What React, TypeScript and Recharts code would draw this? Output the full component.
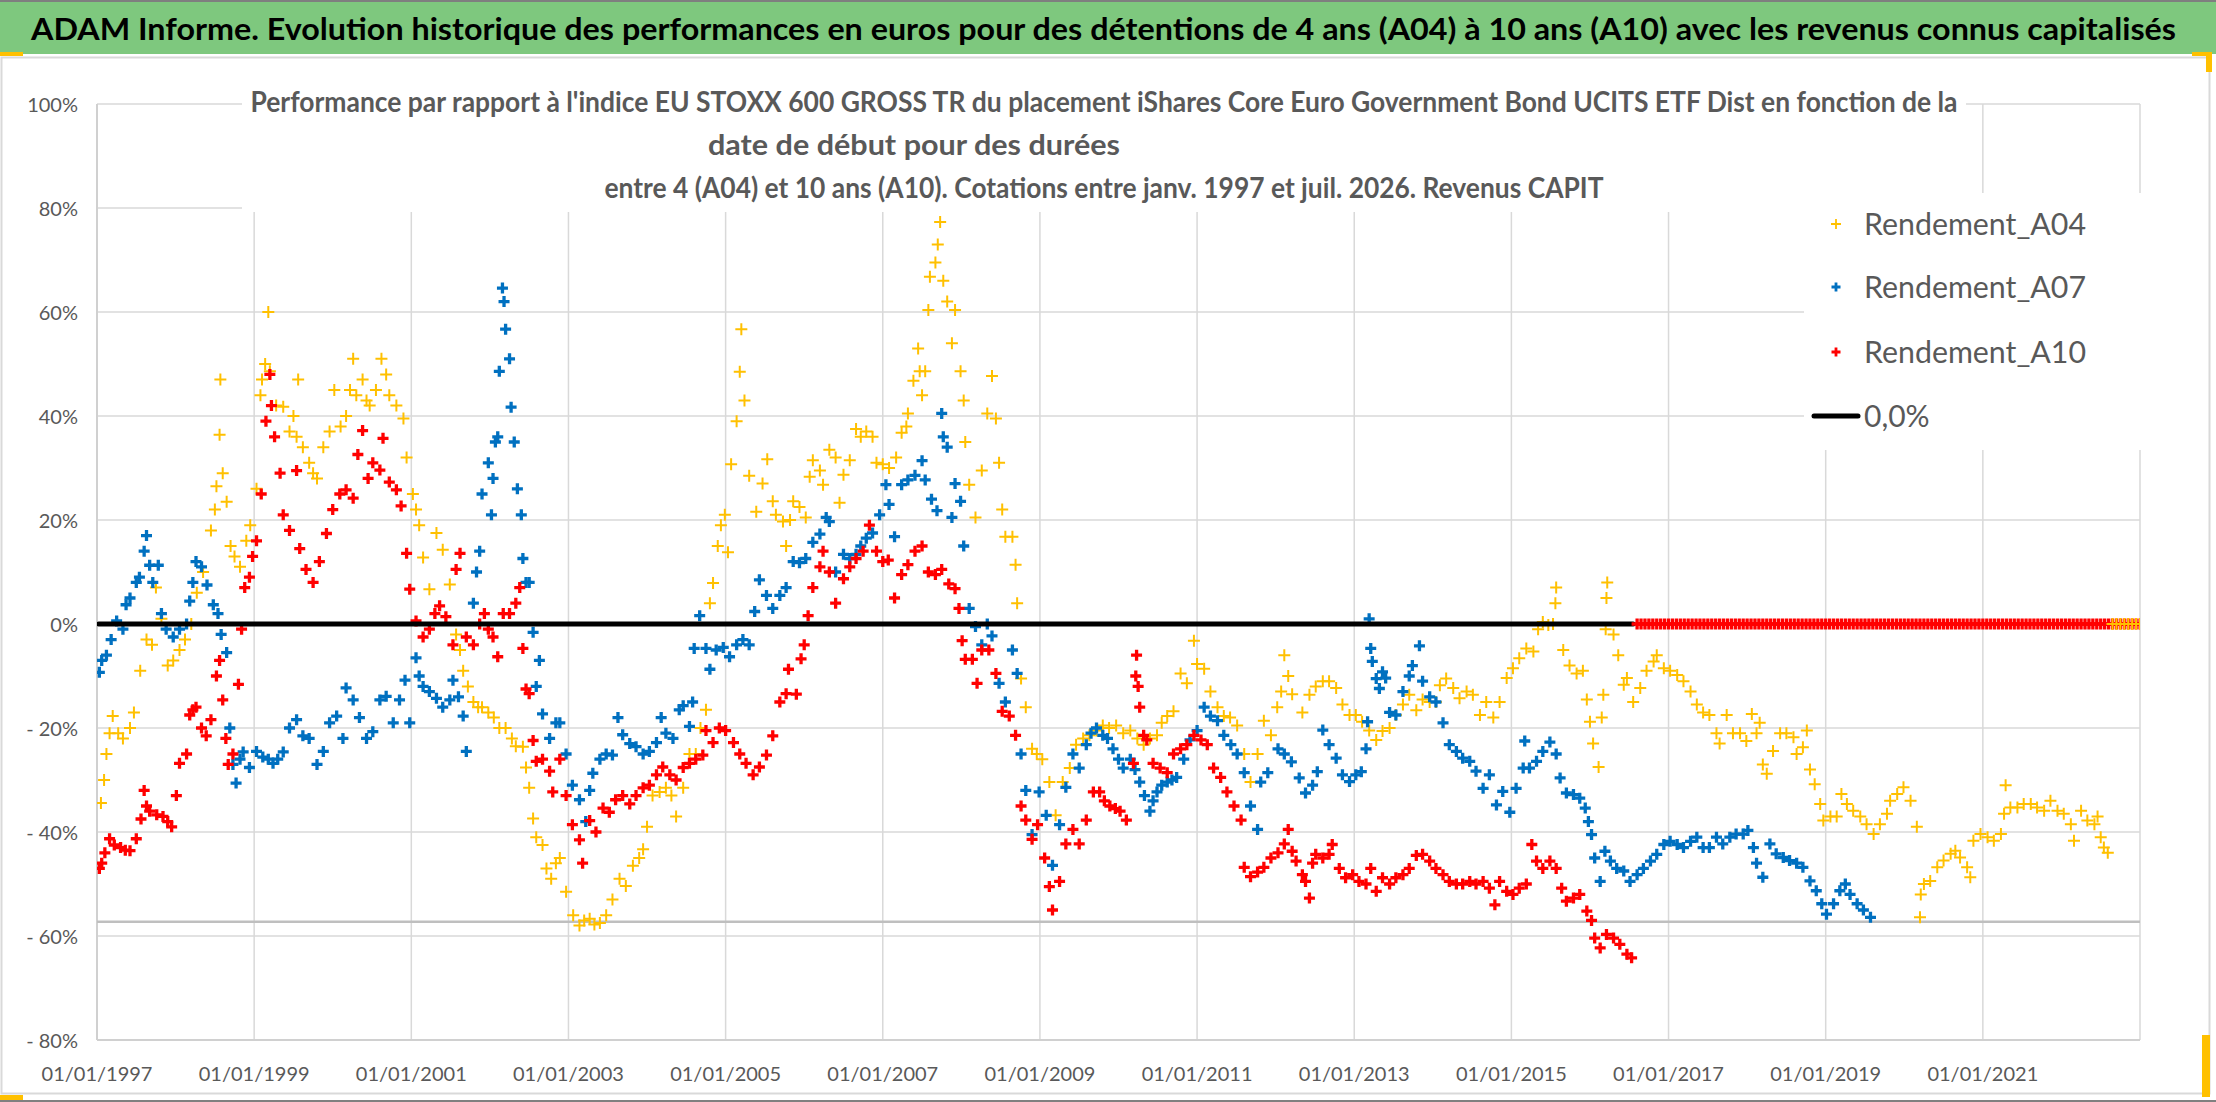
import React from 'react';
import { ScatterChart, Scatter, XAxis, YAxis, CartesianGrid } from 'recharts';

type Pt = [number, number];

// ---- axis ticks ----
const YEAR_TICKS = [1997, 1999, 2001, 2003, 2005, 2007, 2009, 2011, 2013, 2015, 2017, 2019, 2021];
const PCT_TICKS = [-80, -60, -40, -20, 0, 20, 40, 60, 80, 100];

// ---- texts ----
const TITLE = 'ADAM Informe. Evolution historique des performances en euros pour des détentions de 4 ans (A04) à 10 ans (A10) avec les revenus connus capitalisés';
const SUB1 = "Performance par rapport à l'indice EU STOXX 600 GROSS TR  du placement iShares Core Euro Government Bond UCITS ETF Dist en fonction de la";
const SUB2 = 'date de début pour des durées';
const SUB3 = 'entre 4 (A04) et 10 ans (A10). Cotations entre janv. 1997 et juil. 2026. Revenus CAPIT';
const SERIES_NAMES = ['Rendement_A04', 'Rendement_A07', 'Rendement_A10', '0,0%'];

// ---- series values: [date as decimal year, performance %] ----
const A04: Pt[] = [
  [1997.05,-34.4],[1997.09,-30],[1997.12,-25],[1997.16,-21],[1997.2,-17.7],[1997.27,-21],[1997.33,-22],[1997.42,-20],[1997.47,-17],[1997.55,-9],[1997.63,-3],[1997.7,-4],[1997.75,7],[1997.82,1],[1997.9,-8],[1997.97,-7],
  [1998.05,-5],[1998.12,-3],[1998.2,0],[1998.27,6],[1998.35,10],[1998.45,18],[1998.5,22],[1998.52,26.5],[1998.56,36.4],[1998.57,47],[1998.6,29],[1998.65,23.5],[1998.7,15],[1998.75,13],[1998.82,11],[1998.9,16],[1998.95,19],
  [1999.03,26],[1999.08,44],[1999.1,47],[1999.14,50],[1999.18,60],[1999.2,48.6],[1999.28,42],[1999.37,41.8],[1999.45,37],[1999.5,40],[1999.54,36],[1999.56,47],[1999.62,34],[1999.7,31],[1999.75,29],[1999.8,28],[1999.88,34],[1999.96,37],
  [2000.02,45],[2000.1,38],[2000.17,40],[2000.22,45],[2000.26,51],[2000.3,44],[2000.38,47],[2000.43,43],[2000.47,42],[2000.55,45],[2000.62,51],[2000.68,48],[2000.72,44],[2000.81,42],[2000.9,39.5],[2000.94,32],
  [2001.02,25],[2001.06,22],[2001.1,19],[2001.15,12.8],[2001.23,6.7],[2001.32,17.5],[2001.4,14.3],[2001.49,7.6],[2001.57,-2],[2001.62,-5],[2001.66,-9],[2001.72,-12],[2001.79,-15],[2001.85,-16],[2001.9,-16],[2001.98,-17],
  [2002.05,-18],[2002.12,-20],[2002.2,-20],[2002.28,-22],[2002.33,-23.5],[2002.42,-23.6],[2002.46,-27.6],[2002.5,-31.5],[2002.55,-37.4],[2002.59,-41],[2002.67,-42.5],[2002.72,-47],[2002.78,-49],[2002.84,-46],[2002.89,-45],[2002.97,-51.5],
  [2003.06,-56],[2003.14,-58],[2003.2,-57],[2003.27,-56.7],[2003.33,-57.8],[2003.4,-57.5],[2003.48,-56],[2003.56,-53],[2003.65,-49],[2003.73,-50.4],[2003.82,-46.5],[2003.9,-45],[2003.95,-43.3],
  [2004.0,-39],[2004.07,-33],[2004.16,-32.3],[2004.24,-31.5],[2004.31,-33],[2004.37,-37],[2004.46,-31.5],[2004.54,-25],[2004.62,-25],[2004.68,-20],[2004.75,-16.5],[2004.8,4],[2004.84,7.9],[2004.9,15],[2004.94,19],[2004.99,21],
  [2005.03,13.8],[2005.07,30.7],[2005.14,39],[2005.18,48.5],[2005.2,56.7],[2005.24,43],[2005.3,28.5],[2005.39,21.6],[2005.47,27],[2005.53,31.7],[2005.6,23.6],[2005.64,21],[2005.73,19.7],[2005.77,15],[2005.82,20],[2005.86,23.6],[2005.94,22.5],
  [2006.02,20.5],[2006.07,28.3],[2006.11,31.5],[2006.2,29.5],[2006.24,26.8],[2006.32,33.5],[2006.4,32],[2006.45,23.3],[2006.5,28.7],[2006.58,31.5],[2006.66,37.5],[2006.72,36],[2006.79,37],[2006.87,36],[2006.92,31],
  [2007.0,30.7],[2007.08,30],[2007.17,32],[2007.24,36.8],[2007.3,38],[2007.32,40.5],[2007.39,46.8],[2007.45,53],[2007.47,48.6],[2007.5,44],[2007.54,48.6],[2007.58,60.4],[2007.6,66.8],[2007.67,69.5],[2007.7,73],[2007.73,77.3],[2007.77,66],[2007.82,62],[2007.88,54],[2007.92,60.4],[2007.99,48.6],
  [2008.03,43],[2008.05,35],[2008.1,26.8],[2008.18,20.5],[2008.26,29.5],[2008.33,40.5],[2008.39,47.7],[2008.44,39.5],[2008.48,31],[2008.52,22],[2008.56,16.8],[2008.65,16.8],[2008.69,11.4],[2008.71,4],[2008.76,-10.5],[2008.82,-16],[2008.9,-24],[2008.96,-25],
  [2009.03,-26],[2009.12,-30.4],[2009.2,-36.8],[2009.29,-30.4],[2009.38,-27.7],[2009.46,-23.2],[2009.55,-22],[2009.63,-21.4],[2009.72,-20.5],[2009.8,-19.5],[2009.88,-20],[2009.97,-19.5],
  [2010.06,-21],[2010.15,-20.5],[2010.24,-22],[2010.32,-23.2],[2010.4,-22],[2010.49,-21.4],[2010.55,-19],[2010.62,-17.7],[2010.7,-16.8],[2010.79,-9.5],[2010.87,-11.4],[2010.96,-3.2],
  [2011.0,-7.7],[2011.09,-8.6],[2011.17,-13],[2011.26,-16],[2011.34,-17.7],[2011.42,-18],[2011.51,-19.5],[2011.6,-25],[2011.68,-30.4],[2011.77,-25],[2011.85,-18.6],[2011.94,-21.4],
  [2012.02,-16],[2012.07,-13],[2012.11,-6],[2012.16,-10],[2012.21,-13.5],[2012.34,-17],[2012.43,-13.6],[2012.51,-12],[2012.6,-11],[2012.68,-11],[2012.77,-12.3],[2012.85,-15.5],[2012.94,-17.5],
  [2013.02,-17.5],[2013.1,-18.8],[2013.19,-20.5],[2013.28,-22.3],[2013.36,-20.6],[2013.45,-20],[2013.53,-17.5],[2013.62,-15.5],[2013.7,-13.6],[2013.79,-16.6],[2013.87,-14.5],[2013.96,-15],
  [2014.04,-15],[2014.09,-11.8],[2014.17,-10.5],[2014.26,-12.3],[2014.34,-14.3],[2014.43,-13],[2014.51,-13.6],[2014.6,-17.5],[2014.68,-15],[2014.77,-18],[2014.85,-15],[2014.94,-10.4],
  [2015.02,-8.5],[2015.1,-6.6],[2015.19,-4.7],[2015.28,-5.3],[2015.34,-1],[2015.4,0.4],[2015.47,-0.2],[2015.53,0],[2015.56,4],[2015.57,7],[2015.66,-5],[2015.74,-8],[2015.83,-9.5],[2015.91,-9],[2015.96,-14.5],
  [2016.0,-18.8],[2016.04,-23],[2016.11,-27.5],[2016.15,-18],[2016.17,-13.6],[2016.2,-1],[2016.21,5],[2016.22,8],[2016.3,-2],[2016.36,-6],[2016.43,-11.7],[2016.47,-10.4],[2016.55,-15],[2016.64,-12.3],[2016.72,-9],[2016.81,-7.2],[2016.85,-6],[2016.94,-8.5],
  [2017.02,-9],[2017.11,-9.8],[2017.19,-11],[2017.28,-13],[2017.36,-15.5],[2017.44,-17],[2017.52,-17.5],[2017.61,-21],[2017.65,-23],[2017.74,-17.5],[2017.82,-21],[2017.91,-21],[2017.99,-22.5],
  [2018.06,-17.3],[2018.12,-21],[2018.16,-19],[2018.2,-27],[2018.25,-28.8],[2018.33,-24.4],[2018.42,-21],[2018.5,-21],[2018.59,-21.8],[2018.63,-25],[2018.71,-23.7],[2018.76,-20.5],[2018.8,-28],[2018.86,-30.8],[2018.93,-34.6],[2018.97,-37.8],
  [2019.06,-37],[2019.14,-37],[2019.2,-32.7],[2019.27,-34.6],[2019.35,-35.9],[2019.44,-37],[2019.52,-38.5],[2019.61,-40.4],[2019.69,-38.5],[2019.78,-36.5],[2019.82,-34],[2019.91,-32.7],[2019.99,-31.4],
  [2020.08,-34],[2020.16,-39],[2020.2,-56.4],[2020.21,-52],[2020.25,-50],[2020.33,-49.4],[2020.42,-46.8],[2020.5,-45.5],[2020.59,-44.2],[2020.65,-43.6],[2020.71,-44.9],[2020.8,-46.8],[2020.84,-48.7],[2020.88,-41.7],[2020.97,-40.4],
  [2021.06,-41],[2021.14,-41.7],[2021.23,-40.4],[2021.27,-36.5],[2021.29,-31],[2021.35,-35.3],[2021.44,-35.3],[2021.52,-34.6],[2021.61,-34.6],[2021.69,-35.3],[2021.78,-35.9],[2021.86,-34],[2021.95,-35.9],
  [2022.03,-36.5],[2022.12,-38.5],[2022.16,-41.7],[2022.25,-35.9],[2022.33,-37.8],[2022.42,-38.5],[2022.46,-37],[2022.5,-41],[2022.54,-43],[2022.59,-44],
];
const A04_TAIL: Pt[] = [
  [2022.65,0],[2022.7,0],[2022.75,0],[2022.8,0],[2022.85,0],[2022.9,0],[2022.95,0],[2023.0,0],
];

const A07: Pt[] = [
  [1997.03,-9.3],[1997.06,-7],[1997.12,-6],[1997.18,-3],[1997.25,0.6],[1997.33,-1],[1997.37,3.7],[1997.42,5],[1997.5,8],[1997.54,9],[1997.6,14],[1997.63,17],[1997.67,11.3],[1997.71,8],[1997.78,11.3],[1997.82,2],[1997.88,-1],[1997.97,-2.5],
  [1998.05,-1],[1998.14,0],[1998.18,4.4],[1998.22,8],[1998.26,12],[1998.33,11],[1998.4,7.5],[1998.48,3.7],[1998.54,2],[1998.58,-2],[1998.65,-5.5],[1998.69,-20],[1998.73,-27],[1998.77,-30.6],[1998.82,-26],[1998.86,-24.6],[1998.94,-27.6],
  [1999.03,-24.5],[1999.11,-25.6],[1999.18,-26],[1999.24,-26.8],[1999.3,-26],[1999.37,-24.6],[1999.45,-20],[1999.54,-18.4],[1999.62,-21.5],[1999.7,-22],[1999.8,-27],[1999.88,-24.5],[1999.96,-19],
  [2000.05,-17.7],[2000.13,-22],[2000.17,-12.3],[2000.26,-14.6],[2000.34,-18],[2000.43,-22],[2000.51,-20.7],[2000.6,-14.6],[2000.68,-13.9],[2000.77,-19],[2000.85,-14.6],[2000.92,-10.8],[2000.98,-19],
  [2001.06,-6.5],[2001.1,-10],[2001.15,-12],[2001.23,-13],[2001.32,-14.3],[2001.4,-16],[2001.49,-14.6],[2001.53,-10.8],[2001.6,-14],[2001.66,-17.7],[2001.7,-24.5],[2001.79,4],[2001.83,10],[2001.87,14],[2001.9,25],[2001.98,31],
  [2002.02,21],[2002.04,28],[2002.07,35],[2002.1,36],[2002.12,48.6],[2002.16,64.6],[2002.18,62],[2002.2,56.7],[2002.25,51],[2002.27,41.7],[2002.31,35],[2002.35,26],[2002.4,21],[2002.42,12.6],[2002.46,8],[2002.5,8],[2002.55,-1.6],[2002.59,-12],[2002.63,-7],[2002.67,-17.3],[2002.76,-22],[2002.84,-19],[2002.89,-19],[2002.97,-25],
  [2003.05,-31],[2003.14,-33.8],[2003.22,-38],[2003.27,-32],[2003.31,-28.7],[2003.4,-26],[2003.48,-25],[2003.56,-25.2],[2003.63,-18],[2003.69,-21.3],[2003.78,-23],[2003.86,-23.6],[2003.95,-25],
  [2004.03,-24.5],[2004.12,-22.8],[2004.18,-18],[2004.24,-21],[2004.33,-22],[2004.41,-16.5],[2004.46,-15.7],[2004.54,-19.7],[2004.58,-15],[2004.6,-4.7],[2004.67,1.6],[2004.75,-4.7],[2004.8,-8.7],[2004.88,-5],[2004.97,-4.5],
  [2005.05,-6.3],[2005.14,-4],[2005.22,-3],[2005.3,-4],[2005.37,2.4],[2005.43,8.5],[2005.52,5.5],[2005.6,3],[2005.69,5.5],[2005.77,7],[2005.86,12],[2005.94,11.8],
  [2006.02,12.6],[2006.11,15.7],[2006.2,17.3],[2006.28,20.5],[2006.32,19.7],[2006.4,10],[2006.5,13.4],[2006.58,12.6],[2006.66,13.4],[2006.72,15],[2006.79,16.5],[2006.87,17.5],[2006.96,21],
  [2007.04,26.8],[2007.08,23],[2007.15,16.8],[2007.24,26.8],[2007.32,27.7],[2007.41,28.6],[2007.5,31.4],[2007.54,27.7],[2007.62,24],[2007.69,21.8],[2007.75,40.5],[2007.77,36],[2007.82,34],[2007.88,20.5],[2007.92,27],[2007.99,23.6],
  [2008.03,15],[2008.1,3],[2008.18,-0.5],[2008.26,-4],[2008.33,0],[2008.39,-2.3],[2008.48,-11.4],[2008.56,-15],[2008.65,-5],[2008.71,-9.5],[2008.76,-25],[2008.82,-32],[2008.9,-40.5],[2008.99,-32.3],
  [2009.08,-36.8],[2009.16,-46.4],[2009.25,-38.6],[2009.33,-31.4],[2009.42,-25],[2009.5,-27.7],[2009.59,-23.2],[2009.65,-21],[2009.72,-20],[2009.8,-21.4],[2009.86,-22],[2009.93,-24],
  [2010.0,-26],[2010.06,-27.7],[2010.15,-26],[2010.21,-28],[2010.27,-30.4],[2010.33,-33],[2010.4,-36],[2010.44,-34],[2010.49,-32.3],[2010.55,-31],[2010.62,-30.4],[2010.68,-30],[2010.74,-29.5],[2010.83,-26],[2010.91,-22.3],
  [2011.0,-20.5],[2011.09,-16],[2011.17,-17.7],[2011.26,-18.6],[2011.34,-21.4],[2011.43,-23.2],[2011.51,-25],[2011.6,-28.6],[2011.68,-35],[2011.77,-39.5],[2011.81,-30.4],[2011.9,-28.6],
  [2012.03,-24],[2012.11,-25],[2012.2,-26.5],[2012.3,-29.6],[2012.38,-32.5],[2012.47,-31],[2012.53,-28.4],[2012.6,-20.4],[2012.68,-23.2],[2012.77,-25.8],[2012.85,-29],[2012.94,-30.3],
  [2013.02,-29],[2013.09,-28.4],[2013.15,-24],[2013.17,-18.8],[2013.19,1],[2013.21,-4.7],[2013.23,-7.2],[2013.28,-10.5],[2013.32,-12.4],[2013.36,-9.2],[2013.4,-10.4],[2013.45,-17],[2013.53,-17.5],[2013.62,-13],[2013.7,-10],[2013.74,-8],[2013.83,-4.2],[2013.87,-11],[2013.96,-14],
  [2014.04,-15],[2014.13,-19],[2014.21,-23.2],[2014.3,-24.5],[2014.38,-25.8],[2014.47,-26.4],[2014.55,-28.3],[2014.64,-31.6],[2014.72,-29],[2014.81,-34.8],[2014.89,-32.2],[2014.98,-36.2],
  [2015.06,-31.6],[2015.15,-27.7],[2015.17,-22.5],[2015.23,-27.7],[2015.32,-26.4],[2015.4,-24.5],[2015.49,-22.7],[2015.57,-25],[2015.62,-29.6],[2015.7,-32.5],[2015.79,-32.8],[2015.87,-33.5],[2015.94,-35.4],[2015.98,-38],
  [2016.02,-40.5],[2016.06,-45],[2016.13,-49.5],[2016.19,-43.7],[2016.26,-45.6],[2016.34,-47],[2016.43,-47.5],[2016.51,-49.5],[2016.6,-48.2],[2016.68,-47],[2016.77,-45.6],[2016.85,-44.3],[2016.94,-42.4],
  [2017.02,-41.8],[2017.11,-42.4],[2017.19,-43],[2017.28,-41.8],[2017.36,-41],[2017.44,-43],[2017.52,-43],[2017.61,-41],[2017.69,-42.3],[2017.78,-41],[2017.86,-40.4],[2017.95,-40.4],
  [2018.01,-39.7],[2018.08,-43],[2018.12,-46],[2018.2,-48.7],[2018.29,-42.3],[2018.37,-44.2],[2018.46,-44.9],[2018.54,-45.5],[2018.63,-46],[2018.71,-46.8],[2018.8,-49.4],[2018.88,-51.3],[2018.95,-53.8],
  [2019.01,-55.8],[2019.1,-53.8],[2019.18,-51.3],[2019.25,-50],[2019.31,-52],[2019.4,-53.8],[2019.48,-55],[2019.57,-56.4],
];

const A10: Pt[] = [
  [1997.03,-47],[1997.06,-46],[1997.1,-44],[1997.16,-41.3],[1997.22,-42.5],[1997.3,-43],[1997.36,-43.5],[1997.42,-43.6],[1997.5,-41.3],[1997.56,-37.5],[1997.6,-32],[1997.63,-35],[1997.67,-36],[1997.76,-36.7],[1997.84,-37],[1997.9,-38],[1997.95,-39],
  [1998.01,-33],[1998.05,-26.8],[1998.14,-25],[1998.18,-17.5],[1998.22,-16.5],[1998.26,-16],[1998.33,-20],[1998.39,-21.5],[1998.45,-18.4],[1998.52,-10],[1998.56,-7],[1998.6,-14.6],[1998.64,-22],[1998.67,-27],[1998.73,-25],[1998.8,-11.6],[1998.84,-1],[1998.88,7],[1998.94,9],[1998.98,13],
  [1999.03,16],[1999.09,25],[1999.15,39],[1999.2,48],[1999.22,42],[1999.26,36],[1999.33,29],[1999.37,21],[1999.45,18],[1999.54,29.5],[1999.58,14.5],[1999.66,10.5],[1999.75,8],[1999.83,12],[1999.92,17.4],
  [2000.0,22],[2000.09,25],[2000.17,25.8],[2000.26,24.2],[2000.32,32.6],[2000.38,37.2],[2000.45,28],[2000.51,31],[2000.6,29.6],[2000.64,35.7],[2000.72,27.3],[2000.81,25.8],[2000.87,22.7],[2000.94,13.6],[2000.98,6.7],
  [2001.06,0.6],[2001.15,-2.5],[2001.23,-1],[2001.3,2],[2001.36,3.5],[2001.44,1.4],[2001.53,-4],[2001.57,10.5],[2001.62,13.6],[2001.7,-2.5],[2001.79,-4],[2001.87,0],[2001.93,2],[2001.98,-1],
  [2002.04,-2.5],[2002.1,-6.3],[2002.17,2],[2002.25,2],[2002.33,4],[2002.38,7],[2002.42,-4.7],[2002.46,-12.5],[2002.5,-13.4],[2002.55,-22.4],[2002.59,-26.4],[2002.67,-26],[2002.76,-28.3],[2002.8,-32.3],[2002.89,-26],[2002.97,-33],
  [2003.05,-38.6],[2003.14,-41.5],[2003.18,-46],[2003.27,-37.8],[2003.35,-40],[2003.44,-35.4],[2003.52,-36.2],[2003.6,-33.8],[2003.69,-33],[2003.78,-34.6],[2003.86,-33],[2003.95,-31.5],
  [2004.03,-31],[2004.12,-29],[2004.2,-27.5],[2004.29,-29],[2004.37,-30],[2004.46,-27.6],[2004.54,-26.8],[2004.62,-26],[2004.71,-25.2],[2004.75,-20.5],[2004.84,-22.8],[2004.92,-20],
  [2005.0,-20.5],[2005.1,-22.8],[2005.18,-25],[2005.26,-26.8],[2005.35,-29],[2005.43,-27.5],[2005.52,-25.2],[2005.6,-21.5],[2005.69,-15],[2005.77,-13.4],[2005.8,-8.7],[2005.9,-13.5],[2005.96,-6.7],
  [2006.0,-4],[2006.05,1.6],[2006.11,7],[2006.2,11],[2006.24,14],[2006.32,10],[2006.4,4],[2006.5,8.7],[2006.58,11],[2006.66,12.6],[2006.75,14],[2006.83,19],[2006.92,14],
  [2007.0,12],[2007.07,12.3],[2007.15,5],[2007.24,9.5],[2007.32,11.4],[2007.41,14],[2007.5,15],[2007.58,10],[2007.67,9.5],[2007.75,10.5],[2007.84,7.7],[2007.92,6.8],[2007.97,3],
  [2008.01,-3.2],[2008.05,-6.8],[2008.14,-6.8],[2008.2,-11.4],[2008.26,-5],[2008.35,-5],[2008.44,-9.5],[2008.52,-16.8],[2008.61,-17.7],[2008.69,-21.4],[2008.76,-35],[2008.82,-37.7],[2008.9,-41.4],[2008.97,-38.6],
  [2009.06,-45],[2009.12,-50.5],[2009.16,-55],[2009.25,-49.5],[2009.33,-42.3],[2009.42,-39.5],[2009.5,-42.3],[2009.59,-37.7],[2009.68,-32.3],[2009.76,-32.3],[2009.82,-34],[2009.89,-35],[2009.96,-35.5],
  [2010.02,-36],[2010.1,-37.7],[2010.19,-26.8],[2010.22,-10],[2010.23,-6],[2010.25,-12],[2010.27,-16],[2010.32,-21.4],[2010.36,-22.3],[2010.44,-26.8],[2010.53,-27.7],[2010.62,-28.6],[2010.7,-25],[2010.79,-24],[2010.87,-23.2],[2010.96,-21.4],
  [2011.05,-22.3],[2011.13,-23.2],[2011.21,-27.7],[2011.3,-29.5],[2011.38,-32.3],[2011.47,-35],[2011.56,-37.7],[2011.6,-46.8],[2011.68,-48.6],[2011.77,-47.7],[2011.85,-46.8],[2011.94,-45],
  [2012.03,-44],[2012.11,-42.3],[2012.16,-39.5],[2012.21,-43.7],[2012.26,-45.6],[2012.34,-48.2],[2012.38,-49.5],[2012.43,-52.7],[2012.47,-46],[2012.51,-44.3],[2012.6,-45],[2012.68,-44.3],[2012.72,-42.4],[2012.81,-47],[2012.89,-48.8],[2012.98,-48.2],
  [2013.06,-49.5],[2013.15,-50],[2013.21,-47],[2013.28,-51.4],[2013.36,-48.8],[2013.45,-50],[2013.53,-48.8],[2013.62,-48.2],[2013.7,-47],[2013.79,-44.5],[2013.87,-44.3],[2013.96,-45.6],
  [2014.04,-47],[2014.13,-48.2],[2014.21,-49.5],[2014.3,-50],[2014.38,-50],[2014.47,-49.5],[2014.55,-50],[2014.64,-49.5],[2014.72,-50.8],[2014.79,-54],[2014.85,-49.5],[2014.94,-51.4],
  [2015.02,-52],[2015.1,-50.8],[2015.19,-50],[2015.26,-42.4],[2015.32,-45.6],[2015.4,-47],[2015.49,-45.6],[2015.57,-47],[2015.64,-50.8],[2015.7,-53.3],[2015.79,-52.7],[2015.87,-52],[2015.96,-55.2],
  [2016.02,-57],[2016.06,-60.4],[2016.13,-62.3],[2016.21,-59.7],[2016.3,-60.4],[2016.38,-61.6],[2016.47,-63.5],[2016.53,-64.2],
];
const A10_ZERO: Pt[] = [
  [2016.6,0],[2016.65,0],[2016.7,0],[2016.75,0],[2016.8,0],[2016.85,0],[2016.9,0],[2016.95,0],
  [2017.0,0],[2017.05,0],[2017.1,0],[2017.15,0],[2017.2,0],[2017.25,0],[2017.3,0],[2017.35,0],[2017.4,0],[2017.45,0],[2017.5,0],[2017.55,0],[2017.6,0],[2017.65,0],[2017.7,0],[2017.75,0],[2017.8,0],[2017.85,0],[2017.9,0],[2017.95,0],
  [2018.0,0],[2018.05,0],[2018.1,0],[2018.15,0],[2018.2,0],[2018.25,0],[2018.3,0],[2018.35,0],[2018.4,0],[2018.45,0],[2018.5,0],[2018.55,0],[2018.6,0],[2018.65,0],[2018.7,0],[2018.75,0],[2018.8,0],[2018.85,0],[2018.9,0],[2018.95,0],
  [2019.0,0],[2019.05,0],[2019.1,0],[2019.15,0],[2019.2,0],[2019.25,0],[2019.3,0],[2019.35,0],[2019.4,0],[2019.45,0],[2019.5,0],[2019.55,0],[2019.6,0],[2019.65,0],[2019.7,0],[2019.75,0],[2019.8,0],[2019.85,0],[2019.9,0],[2019.95,0],
  [2020.0,0],[2020.05,0],[2020.1,0],[2020.15,0],[2020.2,0],[2020.25,0],[2020.3,0],[2020.35,0],[2020.4,0],[2020.45,0],[2020.5,0],[2020.55,0],[2020.6,0],[2020.65,0],[2020.7,0],[2020.75,0],[2020.8,0],[2020.85,0],[2020.9,0],[2020.95,0],
  [2021.0,0],[2021.05,0],[2021.1,0],[2021.15,0],[2021.2,0],[2021.25,0],[2021.3,0],[2021.35,0],[2021.4,0],[2021.45,0],[2021.5,0],[2021.55,0],[2021.6,0],[2021.65,0],[2021.7,0],[2021.75,0],[2021.8,0],[2021.85,0],[2021.9,0],[2021.95,0],
  [2022.0,0],[2022.05,0],[2022.1,0],[2022.15,0],[2022.2,0],[2022.25,0],[2022.3,0],[2022.35,0],[2022.4,0],[2022.45,0],[2022.5,0],[2022.55,0],[2022.6,0],[2022.65,0],[2022.7,0],[2022.75,0],[2022.8,0],[2022.85,0],[2022.9,0],[2022.95,0],[2023.0,0],
];
const ZERO_LINE: Pt[] = [[1997.02, 0], [2016.55, 0]];
const FLOOR_LINE: Pt[] = [[1997, -57.25], [2023, -57.25]];

const COLORS = { a04: '#FFC000', a07: '#0070C0', a10: '#FF0000', zero: '#000000', grid: '#D9D9D9', text: '#595959' };
const FONT = 'Lato, "Open Sans", sans-serif';

const rows = (pts: Pt[]) => pts.map(([x, y]) => ({ x, y }));

const plus = (color: string, half: number, sw: number) => (props: any) => {
  const { cx, cy } = props;
  if (cx == null || cy == null || isNaN(cx) || isNaN(cy)) return <g />;
  return (
    <path d={`M${cx - half},${cy}H${cx + half}M${cx},${cy - half}V${cy + half}`} stroke={color} strokeWidth={sw} fill="none" />
  );
};
const noShape = () => <g />;

const fmtPct = (v: number) => (v < 0 ? `- ${Math.abs(v)}%` : `${v}%`);

const YTick = (props: any) => {
  const { x, y, payload } = props;
  return (
    <text x={x} y={y} dy={7.5} textAnchor="end" fontSize={20} fill={COLORS.text} fontFamily={FONT}>
      {fmtPct(payload.value)}
    </text>
  );
};
const XTick = (props: any) => {
  const { x, y, payload } = props;
  return (
    <text x={x} y={y} dy={41} textAnchor="middle" fontSize={20} fill={COLORS.text} fontFamily={FONT}>
      {`01/01/${payload.value}`}
    </text>
  );
};

const A04_MARK = { half: 6, sw: 2 };
const BOLD_MARK = { half: 5.5, sw: 3.3 };

const LegendMark = ({ kind, x, y }: { kind: number; x: number; y: number }) => {
  if (kind === 0) return <path d={`M${x - 5},${y}H${x + 5}M${x},${y - 5}V${y + 5}`} stroke={COLORS.a04} strokeWidth={1.8} />;
  if (kind === 1) return <path d={`M${x - 4.5},${y}H${x + 4.5}M${x},${y - 4.5}V${y + 4.5}`} stroke={COLORS.a07} strokeWidth={2.8} />;
  if (kind === 2) return <path d={`M${x - 4.5},${y}H${x + 4.5}M${x},${y - 4.5}V${y + 4.5}`} stroke={COLORS.a10} strokeWidth={2.8} />;
  return <line x1={x - 22} x2={x + 22} y1={y} y2={y} stroke="#000" strokeWidth={5} strokeLinecap="round" />;
};

export default function App() {
  const legendY = [224, 287, 352, 416];
  return (
    <div style={{ position: 'absolute', left: 0, top: 0, width: 2216, height: 1102, background: '#fff', overflow: 'hidden' }}>
      <div style={{ position: 'absolute', left: 0, top: 0 }}>
        <ScatterChart width={2216} height={1102} margin={{ top: 104, right: 76, bottom: 0, left: 0 }}>
          <CartesianGrid stroke={COLORS.grid} strokeWidth={1.5} />
          <XAxis
            type="number"
            dataKey="x"
            domain={[1997, 2023]}
            ticks={YEAR_TICKS}
            interval={0}
            height={62}
            tickSize={0}
            tickMargin={0}
            tick={<XTick />}
            axisLine={{ stroke: '#D0D0D0', strokeWidth: 2 }}
            tickLine={false}
            allowDataOverflow
          />
          <YAxis
            type="number"
            dataKey="y"
            domain={[-80, 100]}
            ticks={PCT_TICKS}
            interval={0}
            width={97}
            tickSize={0}
            tickMargin={19}
            tick={<YTick />}
            axisLine={{ stroke: '#D0D0D0', strokeWidth: 2 }}
            tickLine={false}
            allowDataOverflow
          />
          <Scatter name="floor" data={rows(FLOOR_LINE)} fill="#BFBFBF" line={{ stroke: '#BFBFBF', strokeWidth: 2.5 }} shape={noShape} isAnimationActive={false} legendType="none" />
          <Scatter name={SERIES_NAMES[0]} data={rows(A04)} fill={COLORS.a04} shape={plus(COLORS.a04, A04_MARK.half, A04_MARK.sw)} isAnimationActive={false} />
          <Scatter name={SERIES_NAMES[1]} data={rows(A07)} fill={COLORS.a07} shape={plus(COLORS.a07, BOLD_MARK.half, BOLD_MARK.sw)} isAnimationActive={false} />
          <Scatter name={SERIES_NAMES[2]} data={rows(A10)} fill={COLORS.a10} shape={plus(COLORS.a10, BOLD_MARK.half, BOLD_MARK.sw)} isAnimationActive={false} />
          <Scatter name={SERIES_NAMES[3]} data={rows(ZERO_LINE)} fill={COLORS.zero} line={{ stroke: COLORS.zero, strokeWidth: 5, strokeLinecap: 'round' } as any} shape={noShape} isAnimationActive={false} />
          <Scatter name="A10 zero" data={rows(A10_ZERO)} fill={COLORS.a10} shape={plus(COLORS.a10, BOLD_MARK.half, BOLD_MARK.sw)} isAnimationActive={false} legendType="none" />
          <Scatter name="A04 zero" data={rows(A04_TAIL)} fill={COLORS.a04} shape={plus(COLORS.a04, A04_MARK.half, A04_MARK.sw)} isAnimationActive={false} legendType="none" />
        </ScatterChart>
      </div>
      <svg width={2216} height={1102} style={{ position: 'absolute', left: 0, top: 0, pointerEvents: 'none' }}>
        {/* title bar */}
        <rect x={0} y={0} width={2216} height={54} fill="#7EC87E" />
        <rect x={0} y={0} width={2216} height={2} fill="#7F7F7F" />
        <text x={31} y={40} fontSize={31} fontWeight={700} fill="#000" fontFamily={FONT} textLength={2145} lengthAdjust="spacingAndGlyphs">
          {TITLE}
        </text>
        {/* chart frame */}
        <rect x={1.5} y={57.5} width={2208} height={1036} fill="none" stroke="#D9D9D9" strokeWidth={2} />
        <rect x={0} y={1100} width={2216} height={2} fill="#808080" />
        {/* selection handles */}
        <rect x={0} y={52} width={23} height={4} fill="#FFC000" />
        <rect x={2192} y={52} width={20} height={4} fill="#FFC000" />
        <rect x={2206} y={52} width={6} height={20} fill="#FFC000" />
        <rect x={2202} y={1035} width={8} height={62} fill="#FFC000" />
        <rect x={0} y={1095} width={23} height={5} fill="#FFC000" />
        {/* subtitle box */}
        <rect x={242} y={60} width={1724} height={152} fill="#fff" />
        <text x={1104} y={112} textAnchor="middle" fontSize={28} fontWeight={700} fill={COLORS.text} fontFamily={FONT} textLength={1707} lengthAdjust="spacingAndGlyphs">
          {SUB1}
        </text>
        <text x={708} y={155} fontSize={28} fontWeight={700} fill={COLORS.text} fontFamily={FONT} textLength={412} lengthAdjust="spacingAndGlyphs">
          {SUB2}
        </text>
        <text x={1104} y={198} textAnchor="middle" fontSize={28} fontWeight={700} fill={COLORS.text} fontFamily={FONT} textLength={999} lengthAdjust="spacingAndGlyphs">
          {SUB3}
        </text>
        {/* legend */}
        <rect x={1804} y={193} width={344} height={257} fill="#fff" />
        {SERIES_NAMES.map((name, i) => (
          <g key={name}>
            <LegendMark kind={i} x={1836} y={legendY[i]} />
            <text x={1864} y={legendY[i] + 11} fontSize={30} fill={COLORS.text} fontFamily={FONT} {...(i < 3 ? { textLength: 222, lengthAdjust: 'spacingAndGlyphs' } : {})}>
              {name}
            </text>
          </g>
        ))}
      </svg>
    </div>
  );
}
